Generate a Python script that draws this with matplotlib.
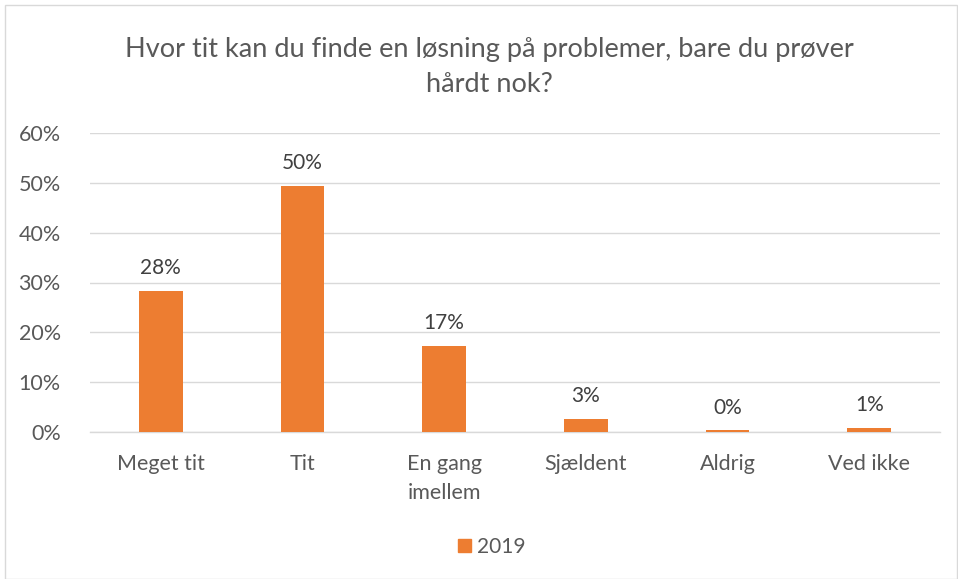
import matplotlib
matplotlib.use("Agg")
import matplotlib.pyplot as plt
from matplotlib.patches import Rectangle, Patch

categories = ["Meget tit", "Tit", "En gang\nimellem", "Sjældent", "Aldrig", "Ved ikke"]
values = [0.283, 0.494, 0.173, 0.027, 0.004, 0.009]
labels = ["28%", "50%", "17%", "3%", "0%", "1%"]
series_name = "2019"
title = "Hvor tit kan du finde en løsning på problemer, bare du prøver\nhårdt nok?"
yticks = [0, 0.1, 0.2, 0.3, 0.4, 0.5, 0.6]
ytick_labels = ["0%", "10%", "20%", "30%", "40%", "50%", "60%"]

plt.rcParams['font.family'] = ['Lato', 'DejaVu Sans']
txt = "#595959"
orange = "#ED7D31"
W, H = 958, 579
fig = plt.figure(figsize=(W / 100, H / 100), dpi=100)
fig.patches.append(Rectangle((5 / W, 0), (W - 6) / W, (H - 5) / H, transform=fig.transFigure,
                             fill=False, edgecolor="#d9d9d9", linewidth=1))

ax = fig.add_axes([90 / W, 1 - 432 / H, 850 / W, (432 - 133) / H])
x = range(len(categories))
ax.bar(x, values, width=0.31, color=orange, zorder=3)
for xi, v, l in zip(x, values, labels):
    ax.annotate(l, (xi, v), xytext=(0, 9), textcoords="offset points", ha="center", va="bottom",
                fontsize=15, color="#404040")
ax.set_xlim(-0.5, len(categories) - 0.5)
ax.set_ylim(0, 0.6)
ax.set_yticks(yticks)
ax.set_yticklabels(ytick_labels)
ax.set_xticks(list(x))
ax.set_xticklabels(categories, linespacing=1.55)
ax.tick_params(axis="both", length=0, labelsize=15.5, labelcolor=txt)
ax.tick_params(axis="y", pad=21)
ax.tick_params(axis="x", pad=16)
for lab in ax.get_yticklabels():
    lab.set_horizontalalignment("right")
ax.grid(axis="y", color="#d9d9d9", linewidth=1, zorder=0)
for s in ["top", "right", "left"]:
    ax.spines[s].set_visible(False)
ax.spines["bottom"].set_color("#d9d9d9")
ax.spines["bottom"].set_linewidth(1)

fig.text(489 / W, 1 - 67 / H, title, ha="center", va="center", fontsize=19.5, color=txt, linespacing=1.5)
fig.legend(handles=[Patch(color=orange, label=series_name)], loc="center", bbox_to_anchor=(492 / W, 1 - 547 / H),
           frameon=False, fontsize=15, labelcolor=txt, handlelength=0.6, handleheight=0.6, handletextpad=0.3)

fig.savefig("out.png", dpi=100)
